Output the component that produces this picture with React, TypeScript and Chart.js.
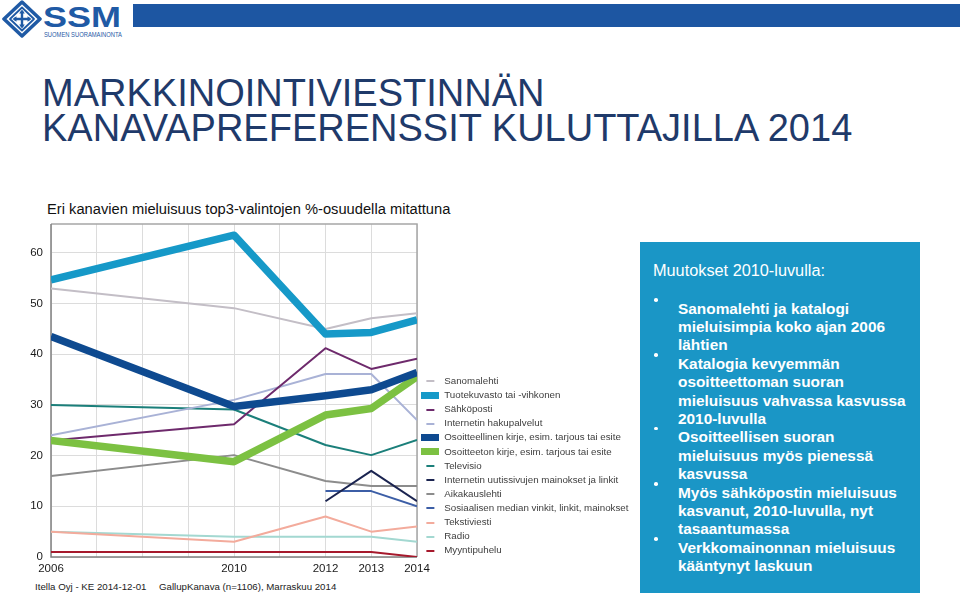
import React, { useEffect, useRef } from 'react';
import { Chart, registerables } from 'chart.js';

Chart.register(...registerables);

// ---- data ----
const years = [2006, 2010, 2012, 2013, 2014];
const yTicks = [0, 10, 20, 30, 40, 50, 60];

const seriesNames = [
  'Sanomalehti',
  'Tuotekuvasto tai -vihkonen',
  'Sähköposti',
  'Internetin hakupalvelut',
  'Osoitteellinen kirje, esim. tarjous tai esite',
  'Osoitteeton kirje, esim. tarjous tai esite',
  'Televisio',
  'Internetin uutissivujen mainokset ja linkit',
  'Aikakauslehti',
  'Sosiaalisen median vinkit, linkit, mainokset',
  'Tekstiviesti',
  'Radio',
  'Myyntipuhelu',
];

const sanomalehti = [53, 49.1, 45, 47.1, 48.1];
const tuotekuvasto = [54.7, 63.5, 44, 44.3, 46.8];
const sahkoposti = [23, 26.2, 41.2, 37.1, 39.1];
const hakupalvelut = [24, 31, 36.1, 36.1, 27];
const osoitteellinen = [43.5, 29.7, 31.8, 33, 36.4];
const osoitteeton = [23, 18.8, 28, 29.3, 35.6];
const televisio = [30, 29.1, 22.1, 20.1, 23.1];
const uutissivut = [null, null, 11, 17, 11];
const aikakauslehti = [16, 20.1, 15, 14, 14];
const sosiaalinenMedia = [null, null, 13, 13, 10];
const tekstiviesti = [5, 3, 8, 5, 6];
const radio = [5, 4, 4, 4, 3];
const myyntipuhelu = [1, 1, 1, 1, 0];

const seriesValues = [
  sanomalehti, tuotekuvasto, sahkoposti, hakupalvelut, osoitteellinen, osoitteeton,
  televisio, uutissivut, aikakauslehti, sosiaalinenMedia, tekstiviesti, radio, myyntipuhelu,
];

// ---- styles ----
const seriesColors = [
  '#c3bec6', '#1699c8', '#6e2a6c', '#a9b2d6', '#0e4a90', '#7cc142',
  '#1b7f7a', '#1b2450', '#8c8c8c', '#3c5ea6', '#f3ab9c', '#a3d8d1', '#a6192c',
];
const seriesThick = [false, true, false, false, true, true, false, false, false, false, false, false, false];

const Y_MAX = 65.7;
const LEGEND_W = 220;

const bullets = [
  ['Sanomalehti ja katalogi', 'mieluisimpia koko ajan 2006', 'lähtien'],
  ['Katalogia kevyemmän', 'osoitteettoman suoran', 'mieluisuus vahvassa kasvussa', '2010-luvulla'],
  ['Osoitteellisen suoran', 'mieluisuus myös pienessä', 'kasvussa'],
  ['Myös sähköpostin mieluisuus', 'kasvanut, 2010-luvulla, nyt', 'tasaantumassa'],
  ['Verkkomainonnan mieluisuus', 'kääntynyt laskuun'],
];

function makeSymbol(color: string, thick: boolean) {
  const c = document.createElement('canvas');
  if (thick) {
    c.width = 18; c.height = 7;
    const g = c.getContext('2d')!;
    g.fillStyle = color; g.fillRect(0, 0, 18, 7);
  } else {
    c.width = 18; c.height = 2;
    const g = c.getContext('2d')!;
    g.fillStyle = color; g.fillRect(5, 0, 8, 2);
  }
  return c;
}

const framePlugin = {
  id: 'frame',
  beforeDatasetsDraw(chart: any) {
    const { ctx, chartArea: a } = chart;
    ctx.save();
    ctx.lineWidth = 1.5;
    ctx.strokeStyle = '#a6a6a6';
    ctx.beginPath();
    ctx.moveTo(a.left, a.top); ctx.lineTo(a.right, a.top); ctx.lineTo(a.right, a.bottom);
    ctx.stroke();
    ctx.strokeStyle = '#808080';
    ctx.beginPath();
    ctx.moveTo(a.left, a.top); ctx.lineTo(a.left, a.bottom); ctx.lineTo(a.right, a.bottom);
    ctx.stroke();
    ctx.restore();
  },
};

const legendFix = {
  id: 'legendFix',
  afterInit(chart: any) {
    const lg = chart.legend;
    if (lg) {
      const f = lg.fit.bind(lg);
      lg.fit = function () { f(); this.width = LEGEND_W; };
    }
  },
  afterLayout(chart: any) {
    const lg = chart.legend;
    if (lg) { lg.top += 3; lg.bottom += 3; }
  },
};

function LineChart() {
  const ref = useRef<HTMLCanvasElement>(null);
  useEffect(() => {
    const symbols = seriesColors.map((c, i) => makeSymbol(c, seriesThick[i]));
    const datasets = seriesNames.map((name, i) => ({
      label: name,
      data: years.map((x, j) => ({ x, y: seriesValues[i][j] })),
      borderColor: seriesColors[i],
      backgroundColor: seriesColors[i],
      borderWidth: seriesThick[i] ? 7.5 : 2,
      pointRadius: 0,
      tension: 0,
      borderJoinStyle: 'round' as const,
      borderCapStyle: 'butt' as const,
      order: seriesThick[i] ? 0 : 1,
      spanGaps: false,
    }));
    const chart = new Chart(ref.current!, {
      type: 'line',
      data: { datasets },
      plugins: [framePlugin, legendFix],
      options: {
        responsive: false,
        animation: false,
        layout: { padding: { top: 9, bottom: 4, left: 0, right: 0 } },
        scales: {
          x: {
            type: 'linear',
            min: years[0],
            max: years[years.length - 1],
            border: { display: false },
            grid: { color: '#dcdcdc', lineWidth: 1, drawTicks: false },
            afterFit: (scale: any) => {
              scale.height = 19;
              scale.paddingLeft = 0;
              scale.paddingRight = 0;
            },
            ticks: {
              stepSize: 1,
              autoSkip: false,
              maxRotation: 0,
              padding: 5,
              color: '#1a1a1a',
              font: { family: 'Liberation Sans, Arial, sans-serif', size: 11.5 },
              callback: (v: any) => (years.includes(Number(v)) ? String(v) : ''),
            },
          },
          y: {
            min: 0,
            max: Y_MAX,
            border: { display: false },
            grid: { color: '#dcdcdc', lineWidth: 1, drawTicks: false },
            afterBuildTicks: (scale: any) => { scale.ticks = yTicks.map((v) => ({ value: v })); },
            afterFit: (scale: any) => {
              scale.width = 51;
              scale.paddingTop = 0;
              scale.paddingBottom = 0;
            },
            ticks: {
              padding: 8,
              color: '#1a1a1a',
              font: { family: 'Liberation Sans, Arial, sans-serif', size: 11.5 },
            },
          },
        },
        plugins: {
          tooltip: { enabled: false },
          legend: {
            position: 'right',
            align: 'end',
            fullSize: false,
            labels: {
              usePointStyle: true,
              pointStyleWidth: 18,
              padding: 4.375,
              color: '#404040',
              font: { family: 'Liberation Sans, Arial, sans-serif', size: 9.75 },
              generateLabels: (ch: any) =>
                ch.data.datasets.map((ds: any, i: number) => ({
                  text: ds.label,
                  pointStyle: symbols[i],
                  fillStyle: seriesColors[i],
                  strokeStyle: seriesColors[i],
                  lineWidth: 0,
                  hidden: false,
                  datasetIndex: i,
                  fontColor: '#404040',
                })),
            },
          },
        },
      },
    } as any);
    return () => chart.destroy();
  }, []);
  return (
    <canvas
      ref={ref}
      width={637}
      height={365}
      style={{ position: 'absolute', left: 0, top: 215, width: 637, height: 365 }}
    />
  );
}

function Logo() {
  const blue = '#1f5aa5';
  return (
    <svg width={130} height={40} style={{ position: 'absolute', left: 0, top: 0 }}>
      <path d="M22 2 L40 19 L22 36 L4 19 Z" fill="#fff" stroke={blue} strokeWidth={3.5} strokeLinejoin="round" />
      <path d="M22 7.5 L34 19 L22 30.5 L10 19 Z" fill="#fff" stroke={blue} strokeWidth={1.8} strokeLinejoin="round" />
      <path d="M22 11 L22 27 M14 19 L30 19" stroke={blue} strokeWidth={2.4} />
      <path d="M22 9.5 L19.2 13.5 L24.8 13.5 Z M22 28.5 L19.2 24.5 L24.8 24.5 Z M12.5 19 L16.5 16.2 L16.5 21.8 Z M31.5 19 L27.5 16.2 L27.5 21.8 Z" fill={blue} />
      <text x={43} y={27} fill={blue} fontFamily="Liberation Sans, Arial, sans-serif" fontWeight="bold" fontSize={30} textLength={78} lengthAdjust="spacingAndGlyphs">SSM</text>
      <text x={44} y={36.5} fill={blue} fontFamily="Liberation Sans, Arial, sans-serif" fontSize={7.4} textLength={78} lengthAdjust="spacingAndGlyphs">SUOMEN SUORAMAINONTA</text>
    </svg>
  );
}

export default function App() {
  const font = 'Liberation Sans, Arial, Helvetica, sans-serif';
  return (
    <div style={{ position: 'absolute', left: 0, top: 0, width: 960, height: 596, overflow: 'hidden', background: '#fff', fontFamily: font }}>
      <Logo />
      <div style={{ position: 'absolute', left: 133, top: 4, width: 827, height: 23, background: '#1d56a2' }} />
      <div style={{ position: 'absolute', left: 42, top: 76, fontSize: 38, lineHeight: '35px', color: '#1f3a6a', whiteSpace: 'nowrap' }}>
        MARKKINOINTIVIESTINNÄN<br />KANAVAPREFERENSSIT KULUTTAJILLA 2014
      </div>
      <div style={{ position: 'absolute', left: 47, top: 200, fontSize: 14.7, lineHeight: '18px', color: '#111', whiteSpace: 'nowrap' }}>
        Eri kanavien mieluisuus top3-valintojen %-osuudella mitattuna
      </div>
      <LineChart />
      <div style={{ position: 'absolute', left: 35, top: 580.6, fontSize: 9.7, lineHeight: '12px', color: '#222', whiteSpace: 'nowrap' }}>
        Itella Oyj - KE 2014-12-01
      </div>
      <div style={{ position: 'absolute', left: 159, top: 580.6, fontSize: 9.7, lineHeight: '12px', color: '#222', whiteSpace: 'nowrap' }}>
        GallupKanava (n=1106), Marraskuu 2014
      </div>
      <div style={{ position: 'absolute', left: 640, top: 242, width: 280, height: 351, background: '#1a96c6' }} />
      <div style={{ position: 'absolute', left: 653, top: 261.2, fontSize: 16.3, lineHeight: '18.4px', color: '#fff', whiteSpace: 'nowrap' }}>
        Muutokset 2010-luvulla:
      </div>
      <div style={{ position: 'absolute', left: 678, top: 299.5, fontSize: 15.4, lineHeight: '18.4px', color: '#fff', fontWeight: 'bold', whiteSpace: 'nowrap' }}>
        {bullets.map((lines, i) => (
          <div key={i} style={{ position: 'relative' }}>
            <span style={{ position: 'absolute', left: -24, top: -1.5, width: 3.5, height: 3.5, borderRadius: '50%', background: '#fff' }} />
            {lines.map((l, j) => (
              <div key={j}>{l}</div>
            ))}
          </div>
        ))}
      </div>
    </div>
  );
}
